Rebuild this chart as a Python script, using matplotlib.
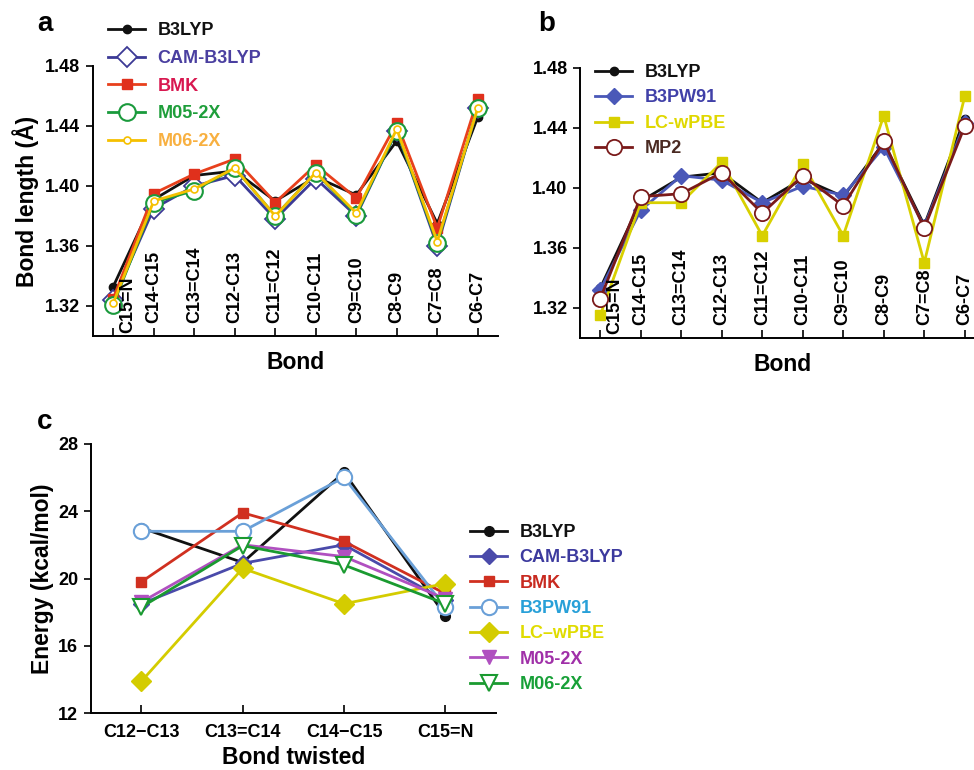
import matplotlib
matplotlib.use("Agg")
import matplotlib.pyplot as plt
import matplotlib.transforms as mtransforms

plt.rcParams['font.family'] = ['Liberation Sans', 'DejaVu Sans']
plt.rcParams['font.weight'] = 'bold'

# ---------------- data ----------------
bonds = ["C15=N", "C14-C15", "C13=C14", "C12-C13", "C11=C12",
         "C10-C11", "C9=C10", "C8-C9", "C7=C8", "C6-C7"]

b3lyp_len = [1.333, 1.391, 1.407, 1.410, 1.390, 1.406, 1.394, 1.430, 1.375, 1.446]
cam_len = [1.324, 1.385, 1.400, 1.407, 1.378, 1.405, 1.380, 1.437, 1.360, 1.452]
bmk_len = [1.325, 1.395, 1.408, 1.418, 1.389, 1.414, 1.392, 1.442, 1.372, 1.458]
m052x_len = [1.321, 1.389, 1.397, 1.412, 1.380, 1.409, 1.381, 1.437, 1.362, 1.452]
m062x_len = [1.322, 1.390, 1.398, 1.412, 1.380, 1.409, 1.382, 1.438, 1.363, 1.452]

b3pw91_len = [1.332, 1.385, 1.408, 1.405, 1.390, 1.401, 1.395, 1.427, 1.374, 1.443]
lcwpbe_len = [1.315, 1.390, 1.390, 1.417, 1.368, 1.416, 1.368, 1.448, 1.350, 1.461]
mp2_len = [1.326, 1.394, 1.396, 1.410, 1.383, 1.408, 1.388, 1.431, 1.373, 1.441]

twisted = ["C12\u2212C13", "C13=C14", "C14\u2212C15", "C15=N"]
e_b3lyp = [23.0, 20.95, 26.3, 17.8]
e_cam = [18.5, 20.9, 22.0, 18.7]
e_bmk = [19.8, 23.9, 22.2, 19.1]
e_b3pw91 = [22.8, 22.8, 26.0, 18.3]
e_lcwpbe = [13.9, 20.6, 18.5, 19.7]
e_m052x = [18.6, 22.0, 21.3, 18.8]
e_m062x = [18.3, 21.95, 20.8, 18.5]

W, H = 974, 770
fig = plt.figure(figsize=(W / 100, H / 100), dpi=100)


def ax_px(left, top, right, bottom):
    return fig.add_axes([left / W, 1 - bottom / H, (right - left) / W, (bottom - top) / H])


FS = 13
LFS = 16.5


def style_axes(ax):
    for s in ['top', 'right']:
        ax.spines[s].set_visible(False)
    for s in ['left', 'bottom']:
        ax.spines[s].set_linewidth(1.4)
    ax.tick_params(axis='y', direction='out', length=5, width=1.2, pad=4, labelsize=FS)
    ax.tick_params(axis='x', direction='in', length=6, width=1.2, labelsize=FS)


def bond_panel(ax):
    style_axes(ax)
    x = list(range(len(bonds)))
    ax.set_xlim(-0.5, 9.5)
    ax.set_ylim(1.30, 1.48)
    yt = [1.32, 1.36, 1.40, 1.44, 1.48]
    ax.set_yticks(yt)
    ax.set_yticklabels([f"{v:.2f}" for v in yt])
    ax.set_xticks(x)
    ax.set_xticklabels([])
    trans = mtransforms.blended_transform_factory(ax.transData, ax.transAxes)
    for i, lab in enumerate(bonds):
        if i == 0:
            ax.text(i + 0.35, 0.012, lab, rotation=90, ha='center', va='bottom',
                    fontsize=FS, fontweight='bold', transform=trans)
        else:
            ax.text(i, 0.048, lab, rotation=90, ha='center', va='bottom',
                    fontsize=FS, fontweight='bold', transform=trans)
    ax.set_xlabel("Bond", fontsize=LFS, fontweight='bold', labelpad=7.5)
    return x


def colored_legend(ax, handles, labels, colors, anchor, spacing):
    leg = ax.legend(handles, labels, loc='upper left', bbox_to_anchor=anchor,
                    bbox_transform=fig.transFigure, frameon=False, fontsize=FS,
                    handlelength=2.05, handletextpad=0.7, labelspacing=spacing,
                    borderpad=0, borderaxespad=0, numpoints=1)
    for t, c in zip(leg.get_texts(), colors):
        t.set_color(c)
        t.set_fontweight('bold')
    return leg


# ---------------- panel a ----------------
axa = ax_px(93, 66, 498, 336)
x = bond_panel(axa)
axa.set_ylabel("Bond length (\u00c5)", fontsize=LFS, fontweight='bold', labelpad=4.5)
lw = 2.0
h1, = axa.plot(x, b3lyp_len, color='#111111', lw=lw, marker='o', ms=6)
h2, = axa.plot(x, cam_len, color='#3c3a96', lw=lw, marker='D', ms=10, mfc='white', mec='#3c3a96', mew=1.3)
h3, = axa.plot(x, bmk_len, color='#e8401c', lw=lw, marker='s', ms=7, mfc='#e0301c', mec='#e0301c')
h4, = axa.plot(x, m052x_len, color='#1a9a3c', lw=lw, marker='o', ms=12, mfc='white', mec='#1a9a3c', mew=1.5)
h5, = axa.plot(x, m062x_len, color='#f5c000', lw=lw, marker='o', ms=5, mfc='white', mec='#f5c000', mew=1.2)
colored_legend(axa, [h1, h2, h3, h4, h5], ["B3LYP", "CAM-B3LYP", "BMK", "M05-2X", "M06-2X"],
               ['#111111', '#4a3fa0', '#d81850', '#1e9e3a', '#f8b040'],
               (108 / W, 1 - 22 / H), 0.60)
fig.text(37 / W, 1 - 24 / H, "a", fontsize=20, fontweight='bold', va='center', ha='left')

# ---------------- panel b ----------------
axb = ax_px(580, 67.7, 985, 337.7)
x = bond_panel(axb)
g1, = axb.plot(x, b3lyp_len, color='#111111', lw=lw, marker='o', ms=6)
g2, = axb.plot(x, b3pw91_len, color='#4a58b8', lw=lw, marker='D', ms=8, mfc='#4a58b8', mec='#4a58b8')
g3, = axb.plot(x, lcwpbe_len, color='#d8d000', lw=lw, marker='s', ms=7, mfc='#d8d000', mec='#d8d000')
g4, = axb.plot(x, mp2_len, color='#7a1a1a', lw=lw, marker='o', ms=11, mfc='white', mec='#7a1a1a', mew=1.3)
colored_legend(axb, [g1, g2, g3, g4], ["B3LYP", "B3PW91", "LC-wPBE", "MP2"],
               ['#111111', '#4040a8', '#e0d800', '#4a2a22'],
               (595 / W, 1 - 64 / H), 0.47)
fig.text(538 / W, 1 - 24 / H, "b", fontsize=20, fontweight='bold', va='center', ha='left')

# ---------------- panel c ----------------
axc = ax_px(90.7, 443.7, 496, 713.3)
style_axes(axc)
xc = list(range(len(twisted)))
axc.set_xlim(-0.5, 3.5)
axc.set_ylim(12, 28)
axc.set_yticks([12, 16, 20, 24, 28])
axc.set_xticks(xc)
axc.set_xticklabels(twisted, fontsize=FS, fontweight='bold')
axc.tick_params(axis='x', pad=8)
axc.set_xlabel("Bond twisted", fontsize=LFS, fontweight='bold', labelpad=3)
axc.set_ylabel("Energy (kcal/mol)", fontsize=LFS, fontweight='bold', labelpad=3)
k1, = axc.plot(xc, e_b3lyp, color='#111111', lw=lw, marker='o', ms=7)
k2, = axc.plot(xc, e_cam, color='#4a4aaa', lw=lw, marker='D', ms=8, mfc='#4a4aaa', mec='#4a4aaa')
k3, = axc.plot(xc, e_bmk, color='#d03020', lw=lw, marker='s', ms=7, mfc='#d03020', mec='#d03020')
k4, = axc.plot(xc, e_b3pw91, color='#6aa0d8', lw=lw, marker='o', ms=11, mfc='white', mec='#6aa0d8', mew=1.5)
k5, = axc.plot(xc, e_lcwpbe, color='#d4cc00', lw=lw, marker='D', ms=10, mfc='#d4cc00', mec='#d4cc00')
k6, = axc.plot(xc, e_m052x, color='#b050c0', lw=lw, marker='v', ms=10, mfc='#b050c0', mec='#b050c0')
k7, = axc.plot(xc, e_m062x, color='#1a9a30', lw=lw, marker='v', ms=12, mfc='white', mec='#1a9a30', mew=1.5)
colored_legend(axc, [k1, k2, k3, k4, k5, k6, k7],
               ["B3LYP", "CAM-B3LYP", "BMK", "B3PW91", "LC\u2013wPBE", "M05-2X", "M06-2X"],
               ['#111111', '#3c3a9e', '#c82a20', '#28a0d8', '#e0dc00', '#a030a8', '#18a038'],
               (470 / W, 1 - 524 / H), 0.46)
fig.text(37 / W, 1 - 422 / H, "c", fontsize=20, fontweight='bold', va='center', ha='left')

fig.savefig("out.png", dpi=100)
